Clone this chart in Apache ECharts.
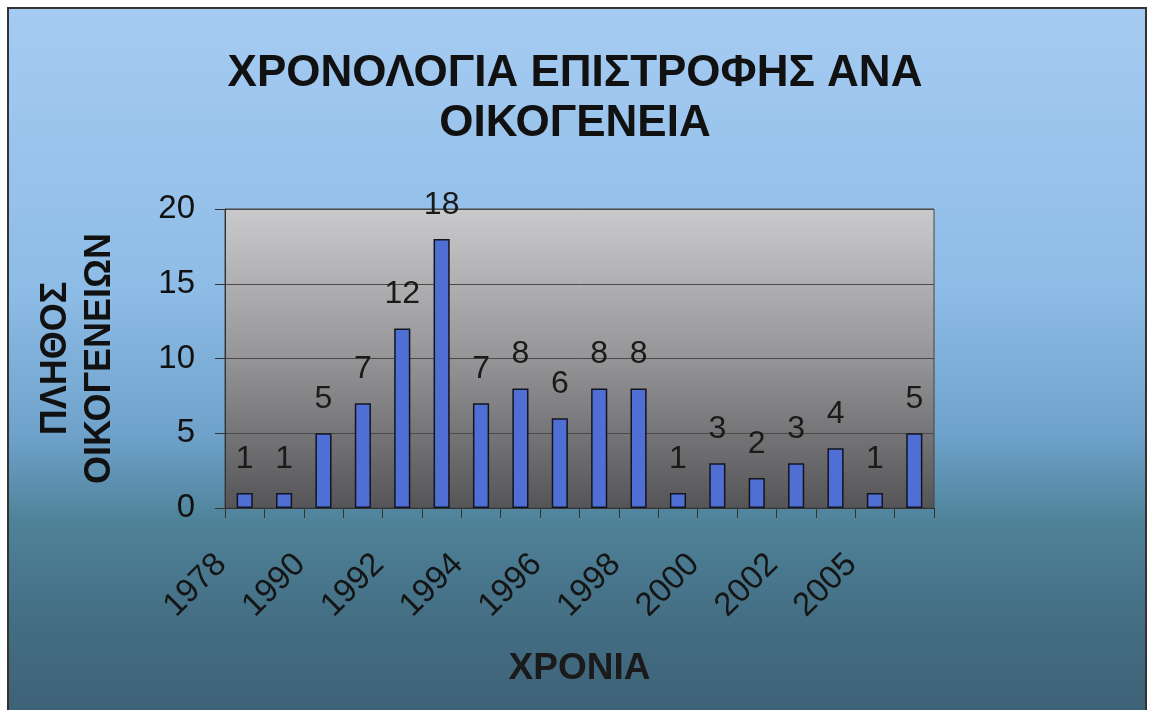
<!DOCTYPE html>
<html>
<head>
<meta charset="utf-8">
<script src="https://cdn.jsdelivr.net/npm/echarts@6/dist/echarts.min.js"></script>
<style>
  html, body { margin: 0; padding: 0; background: #fff; }
  #chart { width: 1151px; height: 710px; }
</style>
</head>
<body>
<div id="chart"></div>
<script>
  // χρονιές επιστροφής (μόνο οι μισές φαίνονται στον άξονα)
  var years = ['1978', '1989', '1990', '1991', '1992', '1993', '1994', '1995', '1996',
               '1997', '1998', '1999', '2000', '2001', '2002', '2004', '2005', '2006'];
  // πλήθος οικογενειών ανά χρονιά
  var families = [1, 1, 5, 7, 12, 18, 7, 8, 6, 8, 8, 1, 3, 2, 3, 4, 1, 5];
  var yTicks = [0, 5, 10, 15, 20];

  var font = 'Liberation Sans, Arial, sans-serif';
  var myChart = echarts.init(document.getElementById('chart'));

  var option = {
    backgroundColor: '#ffffff',
    animation: false,
    graphic: [{
      type: 'rect',
      z: -10,
      silent: true,
      shape: { x: 8, y: 8, width: 1138, height: 710 },
      style: {
        fill: new echarts.graphic.LinearGradient(0, 0, 0, 1, [
          { offset: 0, color: '#a6cbf2' },
          { offset: 0.4, color: '#8dbce6' },
          { offset: 0.6, color: '#6fa2cb' },
          { offset: 0.72, color: '#4f8399' },
          { offset: 0.86, color: '#446e84' },
          { offset: 1, color: '#3d6176' }
        ]),
        stroke: '#333',
        lineWidth: 2
      }
    }],
    title: {
      text: 'ΧΡΟΝΟΛΟΓΙΑ ΕΠΙΣΤΡΟΦΗΣ ΑΝΑ\nΟΙΚΟΓΕΝΕΙΑ',
      left: 570,
      top: 44,
      textAlign: 'center',
      textStyle: {
        fontFamily: font,
        fontSize: 44,
        fontWeight: 'bold',
        color: '#111',
        lineHeight: 50
      }
    },
    grid: {
      left: 225,
      right: 217,
      top: 209,
      bottom: 202,
      outerBoundsMode: 'none',
      containLabel: false,
      show: true,
      borderColor: '#444',
      borderWidth: 1,
      backgroundColor: new echarts.graphic.LinearGradient(0, 0, 0, 1, [
        { offset: 0, color: '#cacacd' },
        { offset: 0.5, color: '#959597' },
        { offset: 1, color: '#555557' }
      ])
    },
    xAxis: {
      type: 'category',
      data: years,
      name: 'ΧΡΟΝΙΑ',
      nameLocation: 'middle',
      nameGap: 142,
      nameTextStyle: {
        fontFamily: font,
        fontSize: 37,
        fontWeight: 'bold',
        color: '#1a1a1a'
      },
      axisLine: { show: true, lineStyle: { color: '#333', width: 1 } },
      axisTick: { show: true, interval: 0, length: 10, lineStyle: { color: '#333' } },
      axisLabel: {
        interval: 1,
        rotate: 45,
        margin: 28,
        padding: [0, 33, 0, 0],
        fontFamily: font,
        fontSize: 33,
        color: '#151515'
      }
    },
    yAxis: {
      type: 'value',
      min: yTicks[0],
      max: yTicks[yTicks.length - 1],
      interval: 5,
      name: 'ΠΛΗΘΟΣ\nΟΙΚΟΓΕΝΕΙΩΝ',
      nameLocation: 'middle',
      nameRotate: 90,
      nameGap: 103,
      nameTextStyle: {
        fontFamily: font,
        fontSize: 36,
        fontWeight: 'bold',
        color: '#111',
        lineHeight: 44
      },
      axisLine: { show: true, lineStyle: { color: '#333', width: 1 } },
      axisTick: { show: true, length: 10, lineStyle: { color: '#333' } },
      splitLine: { show: true, lineStyle: { color: '#4a4a4a', width: 1 } },
      axisLabel: {
        margin: 30,
        fontFamily: font,
        fontSize: 33,
        color: '#111'
      }
    },
    series: [{
      type: 'bar',
      data: families,
      barWidth: '41%',
      itemStyle: {
        color: '#4f6fd4',
        borderColor: '#141420',
        borderWidth: 1.5
      },
      label: {
        show: true,
        position: 'top',
        distance: 18,
        fontFamily: font,
        fontSize: 32,
        color: '#1a1a1a'
      }
    }]
  };

  myChart.setOption(option);
</script>
</body>
</html>
